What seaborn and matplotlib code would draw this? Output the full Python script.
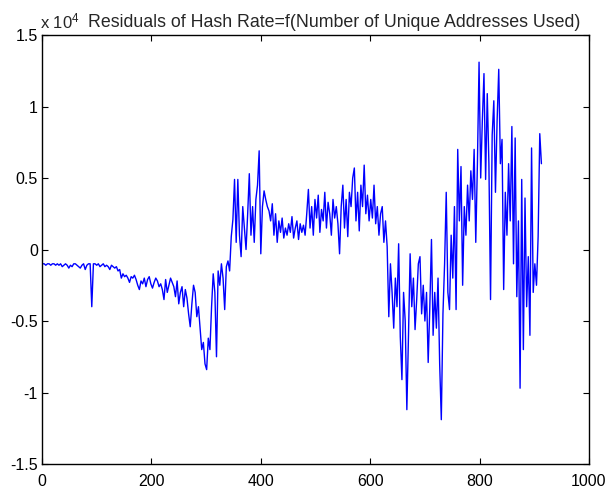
import numpy as np
import pandas as pd
import matplotlib
matplotlib.use("Agg")
import matplotlib.pyplot as plt
import seaborn as sns

# Residual values (units of 1e4), sampled every 3 observations
residuals = [
    -0.10, -0.10, -0.11, -0.10, -0.10, -0.11, -0.10, -0.10, -0.11, -0.10,
    -0.11, -0.10, -0.12, -0.11, -0.10, -0.11, -0.13, -0.11, -0.12, -0.10,
    -0.10, -0.11, -0.12, -0.13, -0.11, -0.10, -0.14, -0.11, -0.10, -0.10,
    -0.40, -0.10, -0.10, -0.11, -0.10, -0.12, -0.11, -0.10, -0.12, -0.11,
    -0.12, -0.14, -0.11, -0.12, -0.13, -0.12, -0.15, -0.14, -0.20, -0.17,
    -0.19, -0.18, -0.20, -0.23, -0.19, -0.20, -0.18, -0.21, -0.25, -0.28,
    -0.22, -0.24, -0.20, -0.26, -0.21, -0.19, -0.24, -0.27, -0.23, -0.20,
    -0.22, -0.26, -0.24, -0.28, -0.35, -0.21, -0.30, -0.25, -0.20, -0.23,
    -0.26, -0.33, -0.22, -0.38, -0.30, -0.26, -0.40, -0.28, -0.34, -0.45,
    -0.54, -0.38, -0.25, -0.30, -0.47, -0.40, -0.55, -0.70, -0.65, -0.80,
    -0.84, -0.62, -0.70, -0.40, -0.17, -0.30, -0.75, -0.15, -0.25, -0.10,
    -0.20, -0.42, -0.12, -0.08, -0.15, 0.09, 0.21, 0.49, 0.05, 0.49,
    0.10, -0.05, 0.30, 0.15, 0.00, 0.25, 0.53, 0.10, 0.30, 0.05,
    0.35, 0.45, 0.69, -0.03, 0.30, 0.41, 0.35, 0.30, 0.27, 0.20,
    0.32, 0.10, 0.25, 0.05, 0.20, 0.12, 0.22, 0.08, 0.15, 0.10,
    0.18, 0.12, 0.23, 0.08, 0.15, 0.20, 0.07, 0.18, 0.12, 0.17,
    0.10, 0.25, 0.42, 0.15, 0.30, 0.10, 0.35, 0.22, 0.38, 0.12,
    0.28, 0.20, 0.40, 0.15, 0.33, 0.25, 0.10, 0.35, 0.22, 0.30,
    0.18, -0.03, 0.30, 0.45, 0.15, 0.35, 0.09, 0.40, 0.30, 0.50,
    0.57, 0.20, 0.40, 0.13, 0.45, 0.30, 0.59, 0.25, 0.38, 0.20,
    0.35, 0.22, 0.45, 0.18, 0.30, 0.10, 0.25, 0.30, 0.05, 0.20,
    0.02, -0.47, -0.10, -0.30, -0.55, -0.20, -0.40, 0.04, -0.61, -0.91,
    -0.30, -0.50, -1.12, -0.60, -0.03, -0.40, -0.20, -0.56, -0.35, -0.10,
    -0.05, -0.45, -0.25, -0.50, -0.30, -0.79, -0.40, 0.07, -0.60, -0.30,
    -0.55, -0.20, -0.80, -1.19, -0.45, -0.10, 0.40, -0.30, -0.42, 0.10,
    -0.20, 0.30, -0.42, 0.70, 0.20, 0.58, -0.25, 0.30, 0.10, 0.45,
    0.20, 0.55, 0.35, 0.70, 0.05, 0.60, 1.31, 0.50, 0.90, 1.23,
    0.49, 1.09, 0.60, -0.35, 0.80, 1.04, 0.40, 0.90, 1.26, 0.60,
    0.77, -0.28, 0.40, 0.10, 0.60, 0.20, 0.86, -0.10, 0.78, -0.33,
    0.20, -0.97, 0.49, -0.70, 0.36, -0.40, -0.05, -0.60, 0.71, -0.30,
    -0.10, -0.25, 0.09, 0.81, 0.60,
]
observation = list(range(1, 3 * len(residuals), 3))

x_ticks = [0, 200, 400, 600, 800, 1000]
x_tick_labels = ["0", "200", "400", "600", "800", "1000"]
y_ticks = [-1.5, -1, -0.5, 0, 0.5, 1, 1.5]
y_tick_labels = ["-1.5", "-1", "-0.5", "0", "0.5", "1", "1.5"]
title_text = "Residuals of Hash Rate=f(Number of Unique Addresses Used)"
scale_text = "x 10$^{4}$"

df = pd.DataFrame({"obs": observation, "res": residuals})

sns.set_style("white")
plt.rcParams["font.family"] = ["Liberation Sans", "DejaVu Sans"]
plt.rcParams["mathtext.default"] = "regular"

W, H = 608, 490
fig = plt.figure(figsize=(W / 100, H / 100), dpi=100)
ax = fig.add_axes([42 / W, 1 - 464 / H, (589 - 42) / W, (464 - 35) / H])

sns.lineplot(data=df, x="obs", y="res", ax=ax, color="#0000ff", linewidth=1.0)

ax.set_xlim(0, 1000)
ax.set_ylim(-1.5, 1.5)
ax.set_xticks(x_ticks)
ax.set_xticklabels(x_tick_labels)
ax.set_yticks(y_ticks)
ax.set_yticklabels(y_tick_labels)
ax.set_xlabel("")
ax.set_ylabel("")
for s in ax.spines.values():
    s.set_visible(True)
    s.set_color("black")
    s.set_linewidth(1.0)
ax.tick_params(axis="both", which="both", direction="in", length=4, width=0.8,
               top=True, right=True, bottom=True, left=True, labelsize=11.5,
               colors="black")
ax.tick_params(axis="x", pad=7)
ax.tick_params(axis="y", pad=3)

fig.text(40 / W, 1 - 28 / H, scale_text, fontsize=12, ha="left", va="baseline")
fig.text(88 / W, 1 - 27 / H, title_text, fontsize=12.8, ha="left", va="baseline")

fig.savefig("out.png", dpi=100, facecolor="white")
